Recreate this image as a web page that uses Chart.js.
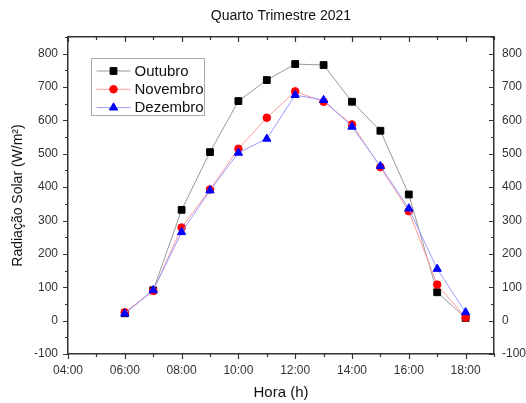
<!DOCTYPE html>
<html>
<head>
<meta charset="utf-8">
<script src="https://cdn.jsdelivr.net/npm/chart.js@4/dist/chart.umd.min.js"></script>
<style>
  body { margin: 0; background: #fff; }
  canvas { display: block; }
</style>
</head>
<body>
<canvas id="solarChart" width="526" height="403"></canvas>
<script>
// hours of the day (x) and radiation per month (W/m²)
const hours = [6, 7, 8, 9, 10, 11, 12, 13, 14, 15, 16, 17, 18];
const outubro = [22, 91, 332, 505, 658, 721, 769, 766, 656, 569, 378, 85, 8];
const novembro = [25, 89, 279, 393, 515, 608, 687, 656, 588, 460, 328, 108, 9];
const dezembro = [21, 91, 265, 390, 503, 545, 676, 661, 581, 463, 336, 155, 25];

const seriesNames = ['Outubro', 'Novembro', 'Dezembro'];

const xTickValues = [4, 6, 8, 10, 12, 14, 16, 18];
const xTickLabels = ['04:00', '06:00', '08:00', '10:00', '12:00', '14:00', '16:00', '18:00'];
const yTickValues = [-100, 0, 100, 200, 300, 400, 500, 600, 700, 800];

const FONT = "Arial, 'Liberation Sans', sans-serif";
const AXIS = '#333';

function toPoints(values) {
    return hours.map((h, i) => ({ x: h, y: values[i] }));
}

function xLabel(v) {
    const i = xTickValues.indexOf(v);
    return i >= 0 ? xTickLabels[i] : '';
}

function yLabel(v) {
    return yTickValues.includes(v) ? String(v) : '';
}

// small ticks on all four sides, major and minor
const tickMarks = {
    id: 'tickMarks',
    afterDraw(chart) {
        const ctx = chart.ctx;
        const s = chart.scales;
        ctx.save();
        ctx.strokeStyle = AXIS;
        ctx.lineWidth = 1.2;
        ctx.beginPath();
        s.x.ticks.forEach(t => {
            const len = xTickValues.includes(t.value) ? 5 : 3;
            const px = Math.round(s.x.getPixelForValue(t.value)) + 0.5;
            ctx.moveTo(px, s.x.top);
            ctx.lineTo(px, s.x.top + len);
            ctx.moveTo(px, s.x2.bottom);
            ctx.lineTo(px, s.x2.bottom + len);
        });
        s.y.ticks.forEach(t => {
            const len = yTickValues.includes(t.value) ? 5 : 3;
            const py = Math.round(s.y.getPixelForValue(t.value)) + 0.5;
            ctx.moveTo(s.y.right, py);
            ctx.lineTo(s.y.right - len, py);
            ctx.moveTo(s.y2.left, py);
            ctx.lineTo(s.y2.left - len, py);
        });
        ctx.stroke();
        ctx.restore();
    }
};

// legend box inside the plot, upper left
const boxLegend = {
    id: 'boxLegend',
    afterDraw(chart) {
        const ctx = chart.ctx;
        const area = chart.chartArea;
        const bx = area.left + 23.5;
        const by = area.top + 21.5;
        ctx.save();
        ctx.strokeStyle = '#aaa';
        ctx.lineWidth = 1;
        ctx.fillStyle = '#fff';
        ctx.fillRect(bx, by, 113, 57);
        ctx.strokeRect(bx, by, 113, 57);
        chart.data.datasets.forEach((ds, i) => {
            const y = by + 12.5 + i * 18.3;
            ctx.strokeStyle = ds.borderColor;
            ctx.lineWidth = 1;
            ctx.beginPath();
            ctx.moveTo(bx + 5, y);
            ctx.lineTo(bx + 39, y);
            ctx.stroke();
            ctx.fillStyle = ds.pointBackgroundColor;
            ctx.strokeStyle = ds.pointBorderColor;
            Chart.helpers.drawPoint(ctx, {
                pointStyle: ds.pointStyle,
                radius: ds.pointRadius,
                borderWidth: 1,
                rotation: 0
            }, bx + 22, y);
            ctx.fillStyle = '#111';
            ctx.font = '15px ' + FONT;
            ctx.textBaseline = 'middle';
            ctx.fillText(ds.label, bx + 43, y + 0.5);
        });
        ctx.restore();
    }
};

const axisGrid = { display: true, drawOnChartArea: false, drawTicks: false };
const axisBorder = { display: true, color: AXIS, width: 1.5 };
const tickFont = { family: FONT, size: 12 };

const ctx = document.getElementById('solarChart').getContext('2d');
const solarChart = new Chart(ctx, {
    type: 'line',
    data: {
        datasets: [{
            label: seriesNames[0],
            data: toPoints(outubro),
            borderColor: '#999',
            borderWidth: 1,
            pointStyle: 'rect',
            pointRadius: 4.8,
            pointBackgroundColor: '#000',
            pointBorderColor: '#000',
            pointBorderWidth: 1,
            order: 3
        }, {
            label: seriesNames[1],
            data: toPoints(novembro),
            borderColor: '#ff9a9a',
            borderWidth: 1,
            pointStyle: 'circle',
            pointRadius: 3.8,
            pointBackgroundColor: '#ff0000',
            pointBorderColor: '#ff0000',
            pointBorderWidth: 1,
            order: 2
        }, {
            label: seriesNames[2],
            data: toPoints(dezembro),
            borderColor: '#9a9aff',
            borderWidth: 1,
            pointStyle: 'triangle',
            pointRadius: 4.8,
            pointBackgroundColor: '#0000ff',
            pointBorderColor: '#0000ff',
            pointBorderWidth: 1,
            order: 1
        }]
    },
    options: {
        responsive: false,
        animation: false,
        layout: { padding: 0 },
        plugins: {
            legend: { display: false },
            tooltip: { enabled: false }
        },
        scales: {
            x: {
                type: 'linear',
                position: 'bottom',
                min: 4,
                max: 19,
                grid: axisGrid,
                border: axisBorder,
                ticks: {
                    stepSize: 1,
                    autoSkip: false,
                    maxRotation: 0,
                    padding: 9,
                    color: '#333',
                    font: tickFont,
                    callback: v => xLabel(v)
                },
                title: {
                    display: true,
                    text: 'Hora (h)',
                    color: '#111',
                    font: { family: FONT, size: 15 },
                    padding: { top: 0, bottom: 1 }
                },
                afterFit: scale => { scale.height = 49; }
            },
            x2: {
                type: 'linear',
                position: 'top',
                min: 4,
                max: 19,
                grid: axisGrid,
                border: axisBorder,
                ticks: { stepSize: 1, display: false },
                title: {
                    display: true,
                    text: 'Quarto Trimestre 2021',
                    color: '#111',
                    font: { family: FONT, size: 14 },
                    padding: { top: 7.6, bottom: 0 }
                },
                afterFit: scale => { scale.height = 37; }
            },
            y: {
                type: 'linear',
                position: 'left',
                min: -100,
                max: 850,
                grid: axisGrid,
                border: axisBorder,
                ticks: {
                    stepSize: 50,
                    autoSkip: false,
                    padding: 10,
                    color: '#333',
                    font: tickFont,
                    callback: v => yLabel(v)
                },
                title: {
                    display: true,
                    text: 'Radiação Solar (W/m²)',
                    color: '#111',
                    font: { family: FONT, size: 14 },
                    padding: { top: 9.6, bottom: 0 }
                },
                afterFit: scale => { scale.width = 68; }
            },
            y2: {
                type: 'linear',
                position: 'right',
                min: -100,
                max: 850,
                grid: axisGrid,
                border: axisBorder,
                ticks: {
                    stepSize: 50,
                    autoSkip: false,
                    padding: 8,
                    color: '#333',
                    font: tickFont,
                    callback: v => yLabel(v)
                },
                afterFit: scale => { scale.width = 32; }
            }
        }
    },
    plugins: [tickMarks, boxLegend]
});
</script>
</body>
</html>
